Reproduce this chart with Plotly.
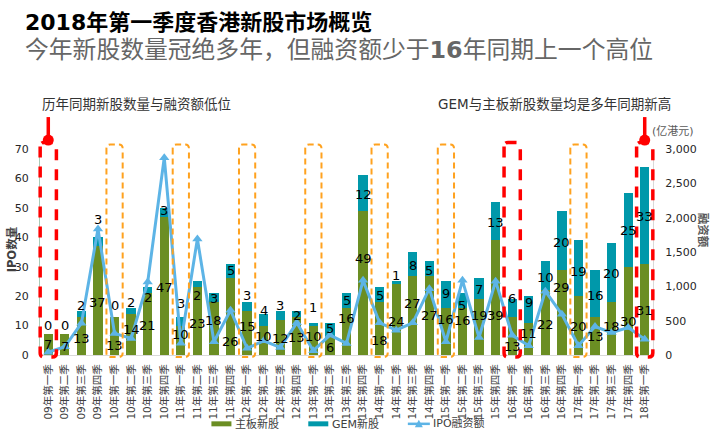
import plotly.graph_objects as go

# ---------------- data ----------------
years = ["09", "10", "11", "12", "13", "14", "15", "16", "17", "18"]
quarters = ["一", "二", "三", "四"]
categories = [f"{y}年第{q}季" for y in years for q in quarters][:37]

main_board = [7, 7, 13, 37, 13, 14, 21, 47, 10, 23, 18, 26, 15, 10, 12, 13, 10, 6, 16, 49,
              18, 24, 27, 27, 16, 16, 19, 39, 13, 11, 22, 29, 20, 13, 18, 30, 31]
gem_board = [0, 0, 2, 3, 0, 2, 2, 3, 3, 2, 3, 5, 3, 4, 3, 2, 1, 5, 5, 12,
             5, 1, 8, 5, 9, 5, 7, 13, 6, 9, 10, 20, 19, 16, 20, 25, 33]
ipo_funds = [40, 120, 463, 1836, 314, 242, 1062, 2874, 170, 1691, 193, 652, 97, 207, 111, 469,
             63, 290, 169, 1087, 469, 362, 469, 966, 193, 1087, 255, 1074, 289, 135, 929, 592,
             135, 414, 327, 400, 231]

# label placement (axis units of the left axis), as placed in the original
main_lbl_y = [3.5, 3.0, 5.6, 18, 3.2, 8.5, 10.1, 23.1, 6.8, 10.7, 11.8, 4.7, 9.6, 6.4, 5.6, 6.0,
              6.2, 2.5, 12.4, 32.7, 4.8, 11.3, 17.5, 13.5, 12.1, 11.8, 13.5, 13.5, 2.8, 7.3, 10.5,
              23.1, 9.6, 6.2, 9.6, 11.3, 15.2]
gem_lbl_y = [10.1, 10.1, 16.9, 46.2, 16.9, 18, 19.7, 49, 17.5, 20.3, 19.2, 28.7, 20.3, 15.2, 16.9,
             13.5, 16.3, 9, 18.6, 54.7, 20.3, 27, 30.4, 28.7, 20.9, 16.9, 22.2, 45.1, 19.2, 18,
             26.5, 38.3, 28.5, 20.3, 27.6, 42.3, 47]

red_boxes = ["09年第一季", "16年第一季", "18年第一季"]
lollipops = ["09年第一季", "18年第一季"]

# ---------------- style ----------------
GREEN = "#6B8E23"
TEAL = "#0098AA"
LINE = "#5DB4E6"
RED = "#FF0000"
ORANGE = "#FFA21F"
FONT = "DejaVu Sans, Noto Sans CJK SC, sans-serif"

W_PX, H_PX = 715, 444
L, R, T, B = 40.4, 653.0, 149.0, 355.5
PW, PH = R - L, B - T
N = len(categories)


def fx(x):
    return (x - L) / PW


def fy(y):
    return (B - y) / PH


def cx(i):
    return (i + 0.5) / N


fig = go.Figure()
fig.add_trace(go.Bar(x=categories, y=main_board, name="主板新股", marker=dict(color=GREEN, line=dict(width=0)),
                     showlegend=False))
fig.add_trace(go.Bar(x=categories, y=gem_board, name="GEM新股", marker=dict(color=TEAL, line=dict(width=0)),
                     showlegend=False))
fig.add_trace(go.Scatter(x=categories, y=ipo_funds, name="IPO融资额", yaxis="y2", mode="lines+markers",
                         line=dict(color=LINE, width=3),
                         marker=dict(symbol="triangle-up", size=9, color=LINE),
                         showlegend=False))

annotations = []
for c, v, yl in zip(categories, main_board, main_lbl_y):
    annotations.append(dict(x=c, y=yl, xref="x", yref="y", text=str(v), showarrow=False,
                            font=dict(size=13, color="#000000", family=FONT)))
for c, v, yl in zip(categories, gem_board, gem_lbl_y):
    annotations.append(dict(x=c, y=yl, xref="x", yref="y", text=str(v), showarrow=False,
                            font=dict(size=13, color="#000000", family=FONT)))

# titles & notes
annotations += [
    dict(x=fx(23), y=fy(22), xref="paper", yref="paper", xanchor="left", yanchor="middle",
         text="<b>2018年第一季度香港新股市场概览</b>", showarrow=False,
         font=dict(size=22, color="#000000", family=FONT)),
    dict(x=fx(23), y=fy(50), xref="paper", yref="paper", xanchor="left", yanchor="middle",
         text="今年新股数量冠绝多年，但融资额少于<b>16</b>年同期上一个高位", showarrow=False,
         font=dict(size=23.8, color="#666666", family=FONT)),
    dict(x=fx(40), y=fy(104), xref="paper", yref="paper", xanchor="left", yanchor="middle",
         text="历年同期新股数量与融资额低位", showarrow=False,
         font=dict(size=13.5, color="#333333", family=FONT)),
    dict(x=fx(436), y=fy(103.5), xref="paper", yref="paper", xanchor="left", yanchor="middle",
         text="GEM与主板新股数量均是多年同期新高", showarrow=False,
         font=dict(size=13.5, color="#333333", family=FONT)),
    dict(x=fx(673), y=fy(131), xref="paper", yref="paper", xanchor="center", yanchor="middle",
         text="(亿港元)", showarrow=False, font=dict(size=11, color="#595959", family=FONT)),
    dict(x=fx(12), y=fy(250), xref="paper", yref="paper", xanchor="center", yanchor="middle",
         text="<b>IPO数量</b>", textangle=-90, showarrow=False,
         font=dict(size=11.5, color="#404040", family=FONT)),
    dict(x=fx(703), y=fy(230), xref="paper", yref="paper", xanchor="center", yanchor="middle",
         text="<b>融资额</b>", textangle=90, showarrow=False,
         font=dict(size=11.5, color="#595959", family=FONT)),
]

shapes = []


def box_path(i, top_px, bottom_px=357.5, r=4.0, half=0.49):
    x0 = (i + 0.5 - half) / N
    x1 = (i + 0.5 + half) / N
    y0 = fy(bottom_px)
    y1 = fy(top_px)
    rx = r / PW
    ry = r / PH
    return (f"M {x0},{y1 - ry} L {x0},{y0 + ry} Q {x0},{y0} {x0 + rx},{y0} "
            f"L {x1 - rx},{y0} Q {x1},{y0} {x1},{y0 + ry} L {x1},{y1 - ry} "
            f"Q {x1},{y1} {x1 - rx},{y1} L {x0 + rx},{y1} Q {x0},{y1} {x0},{y1 - ry} Z")


for i, c in enumerate(categories):
    if "第一季" not in c:
        continue
    if c in red_boxes:
        shapes.append(dict(type="path", xref="paper", yref="paper", path=box_path(i, 142.5),
                           line=dict(color=RED, width=3.5, dash="11px,9px"), layer="above"))
    else:
        shapes.append(dict(type="path", xref="paper", yref="paper", path=box_path(i, 144.5),
                           line=dict(color=ORANGE, width=2, dash="6px,4px"), layer="above"))

for c in lollipops:
    i = categories.index(c)
    xc = cx(i)
    shapes.append(dict(type="line", xref="paper", yref="paper", x0=xc, x1=xc, y0=fy(140), y1=fy(117),
                       line=dict(color=RED, width=3.5), layer="above"))
    shapes.append(dict(type="circle", xref="paper", yref="paper", x0=xc - 5.5 / PW, x1=xc + 5.5 / PW,
                       y0=fy(145.5), y1=fy(134.5), fillcolor=RED, line=dict(color=RED, width=0),
                       layer="above"))

# custom legend
LEG_Y = 424.5
shapes.append(dict(type="rect", xref="paper", yref="paper", x0=fx(211.7), x1=fx(231.7),
                   y0=fy(LEG_Y + 2.5), y1=fy(LEG_Y - 2.5), fillcolor=GREEN, line=dict(width=0)))
shapes.append(dict(type="rect", xref="paper", yref="paper", x0=fx(308.5), x1=fx(328.5),
                   y0=fy(LEG_Y + 2.5), y1=fy(LEG_Y - 2.5), fillcolor=TEAL, line=dict(width=0)))
shapes.append(dict(type="line", xref="paper", yref="paper", x0=fx(408), x1=fx(430),
                   y0=fy(LEG_Y), y1=fy(LEG_Y), line=dict(color=LINE, width=2.5)))
tx, ty = 419, LEG_Y
shapes.append(dict(type="path", xref="paper", yref="paper",
                   path=f"M {fx(tx - 4)},{fy(ty + 3.5)} L {fx(tx + 4)},{fy(ty + 3.5)} L {fx(tx)},{fy(ty - 4)} Z",
                   fillcolor=LINE, line=dict(color=LINE, width=0)))
for xt, label in [(233.5, "主板新股"), (330.5, "GEM新股"), (431.5, "IPO融资额")]:
    annotations.append(dict(x=fx(xt), y=fy(LEG_Y), xref="paper", yref="paper", xanchor="left",
                            yanchor="middle", text=label, showarrow=False,
                            font=dict(size=11, color="#404040", family=FONT)))

fig.update_layout(
    width=W_PX, height=H_PX, autosize=False,
    margin=dict(l=L, r=W_PX - R, t=T, b=H_PX - B, pad=0, autoexpand=False),
    paper_bgcolor="white", plot_bgcolor="white",
    barmode="stack", bargap=0.44,
    font=dict(family=FONT, size=11, color="#404040"),
    xaxis=dict(type="category", range=[-0.5, N - 0.5], tickangle=-90, showgrid=False, showline=True,
               linecolor="#D9D9D9", linewidth=1, ticks="", tickfont=dict(size=10.5, color="#404040"),
               ticklabelstandoff=4, zeroline=False, automargin=False),
    yaxis=dict(range=[0, 70], dtick=10, showgrid=False, showline=True, linecolor="#A9CBB7", linewidth=1,
               ticks="", tickfont=dict(size=11, color="#262626"), ticklabelstandoff=8, zeroline=False,
               automargin=False),
    yaxis2=dict(range=[0, 3000], dtick=500, tickformat=",", overlaying="y", side="right", showgrid=False,
                showline=True, linecolor="#D9D9D9", linewidth=1, ticks="",
                tickfont=dict(size=11, color="#262626"), ticklabelstandoff=9, zeroline=False,
                automargin=False),
    annotations=annotations,
    shapes=shapes,
    showlegend=False,
)

fig.write_html("out.html", config={"displayModeBar": False},
               post_script="document.body.style.margin='0';document.body.style.padding='0';")
